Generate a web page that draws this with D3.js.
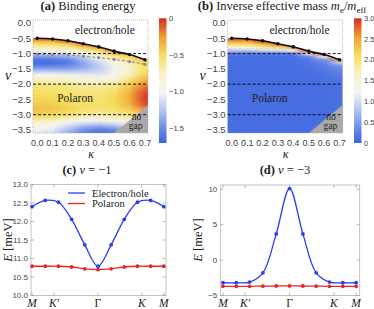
<!DOCTYPE html>
<html>
<head>
<meta charset="utf-8">
<script src="https://cdn.jsdelivr.net/npm/d3@7"></script>
<style>
  body { margin: 0; background: #fff; }
  svg { display: block; }
  text { font-family: "Liberation Serif", "Times New Roman", "DejaVu Serif", serif; fill: #222; }
  .num { font-family: "Liberation Sans", Arial, "DejaVu Sans", sans-serif; fill: #444; }
</style>
</head>
<body>
<svg id="fig" width="374" height="309"></svg>
<script>
// ---- heat map grid: columns = kappa, rows = nu ----
const kappa = [0, 0.1, 0.2, 0.3, 0.4, 0.5, 0.6, 0.7];
const nuRows = [-0.4, -0.5, -0.6, -0.7, -0.8, -0.9, -1.0, -1.1, -1.2, -1.3, -1.4, -1.5, -1.6, -1.7,
  -1.8, -1.9, -2.0, -2.1, -2.2, -2.3, -2.4, -2.5, -2.6, -2.7, -2.8, -2.9, -3.0, -3.1, -3.2, -3.3,
  -3.4, -3.5, -3.6];

// phase boundary (black) and gray dashed curve
const edgeNu = [-0.5, -0.52, -0.58, -0.68, -0.78, -0.92, -1.03, -1.2];
const grayNu = [-1.03, -1.04, -1.05, -1.09, -1.13, -1.19, -1.26, -1.35];
const nuLevels = [-1, -2, -3];
const noGap = [[0.5, -3.6], [0.72, -3.6], [0.72, -2.68]];

// (a) binding energy
const bindE = [
  [-0.05, -0.05, -0.05, -0.05, -0.05, -0.15, -0.25, -0.2],
  [-0.05, -0.05, -0.05, -0.05, -0.05, -0.15, -0.25, -0.2],
  [-0.35, -0.32, -0.15, -0.05, -0.05, -0.15, -0.25, -0.2],
  [-0.55, -0.53, -0.45, -0.2, -0.05, -0.15, -0.25, -0.2],
  [-0.72, -0.7, -0.65, -0.48, -0.25, -0.15, -0.25, -0.2],
  [-0.92, -0.9, -0.85, -0.72, -0.5, -0.15, -0.25, -0.2],
  [-1.15, -1.12, -1.05, -0.92, -0.72, -0.45, -0.25, -0.2],
  [-1.45, -1.42, -1.35, -1.15, -0.9, -0.62, -0.5, -0.2],
  [-1.62, -1.6, -1.52, -1.3, -1.05, -0.78, -0.62, -0.35],
  [-1.65, -1.63, -1.58, -1.38, -1.15, -0.9, -0.7, -0.5],
  [-1.55, -1.54, -1.5, -1.38, -1.2, -0.98, -0.75, -0.52],
  [-1.38, -1.38, -1.38, -1.32, -1.2, -1.02, -0.78, -0.52],
  [-1.18, -1.18, -1.2, -1.2, -1.15, -1.02, -0.78, -0.5],
  [-0.98, -0.99, -1.02, -1.05, -1.05, -0.97, -0.72, -0.45],
  [-0.82, -0.83, -0.86, -0.9, -0.92, -0.88, -0.62, -0.38],
  [-0.7, -0.71, -0.74, -0.78, -0.8, -0.76, -0.52, -0.3],
  [-0.62, -0.63, -0.65, -0.68, -0.7, -0.65, -0.45, -0.22],
  [-0.57, -0.58, -0.6, -0.63, -0.64, -0.58, -0.4, -0.15],
  [-0.54, -0.55, -0.57, -0.6, -0.61, -0.55, -0.35, -0.1],
  [-0.51, -0.52, -0.55, -0.58, -0.59, -0.52, -0.32, -0.06],
  [-0.49, -0.5, -0.53, -0.56, -0.57, -0.5, -0.3, -0.04],
  [-0.47, -0.48, -0.52, -0.55, -0.56, -0.49, -0.3, -0.04],
  [-0.44, -0.45, -0.5, -0.54, -0.55, -0.49, -0.32, -0.06],
  [-0.41, -0.43, -0.48, -0.53, -0.55, -0.5, -0.36, -0.1],
  [-0.39, -0.41, -0.47, -0.53, -0.56, -0.53, -0.42, -0.2],
  [-0.41, -0.43, -0.5, -0.56, -0.6, -0.58, -0.5, -0.3],
  [-0.47, -0.49, -0.56, -0.63, -0.68, -0.65, -0.58, -0.4],
  [-0.58, -0.6, -0.7, -0.78, -0.82, -0.78, -0.68, -0.5],
  [-0.72, -0.75, -0.88, -0.98, -1.02, -0.95, -0.8, -0.6],
  [-0.86, -0.9, -1.05, -1.18, -1.22, -1.15, -0.95, -0.7],
  [-0.96, -1.0, -1.18, -1.35, -1.42, -1.35, -1.1, -0.8],
  [-1.02, -1.07, -1.28, -1.48, -1.58, -1.5, -1.2, -0.9],
  [-1.06, -1.12, -1.35, -1.55, -1.65, -1.6, -1.3, -1.0]
];

// (b) inverse effective mass
const invMass = [
  [3, 3, 3, 3, 3, 3, 3, 3],
  [2.95, 2.95, 3, 3, 3, 3, 3, 3],
  [2.5, 2.5, 2.9, 3, 3, 3, 3, 3],
  [2.05, 2.05, 2.3, 2.7, 3, 3, 3, 3],
  [1.5, 1.5, 1.8, 2.0, 2.5, 3, 3, 3],
  [0.8, 0.8, 0.95, 1.0, 1.2, 3, 3, 3],
  [0.2, 0.2, 0.2, 0.2, 0.25, 1.6, 3, 3],
  [0.1, 0.1, 0.1, 0.1, 0.12, 0.35, 1.4, 3],
  [0.08, 0.08, 0.08, 0.08, 0.1, 0.2, 0.45, 2.6],
  [0.08, 0.08, 0.08, 0.08, 0.1, 0.16, 0.3, 0.9],
  [0.08, 0.08, 0.08, 0.08, 0.09, 0.13, 0.24, 0.45],
  [0.08, 0.08, 0.08, 0.08, 0.09, 0.11, 0.2, 0.35],
  [0.08, 0.08, 0.08, 0.08, 0.08, 0.1, 0.16, 0.28],
  [0.08, 0.08, 0.08, 0.08, 0.08, 0.09, 0.13, 0.22],
  [0.08, 0.08, 0.08, 0.08, 0.08, 0.08, 0.11, 0.18],
  [0.08, 0.08, 0.08, 0.08, 0.08, 0.08, 0.1, 0.15],
  [0.08, 0.08, 0.08, 0.08, 0.08, 0.08, 0.09, 0.13],
  [0.08, 0.08, 0.08, 0.08, 0.08, 0.08, 0.09, 0.12],
  [0.08, 0.08, 0.08, 0.08, 0.08, 0.08, 0.09, 0.12],
  [0.08, 0.08, 0.08, 0.08, 0.08, 0.08, 0.09, 0.12],
  [0.08, 0.08, 0.08, 0.08, 0.08, 0.08, 0.09, 0.12],
  [0.08, 0.08, 0.08, 0.08, 0.08, 0.08, 0.09, 0.12],
  [0.08, 0.08, 0.08, 0.08, 0.08, 0.08, 0.09, 0.12],
  [0.08, 0.08, 0.08, 0.08, 0.08, 0.08, 0.09, 0.12],
  [0.08, 0.08, 0.08, 0.08, 0.08, 0.08, 0.09, 0.12],
  [0.08, 0.08, 0.08, 0.08, 0.08, 0.08, 0.09, 0.12],
  [0.08, 0.08, 0.08, 0.08, 0.08, 0.08, 0.09, 0.12],
  [0.08, 0.08, 0.08, 0.08, 0.08, 0.08, 0.09, 0.11],
  [0.08, 0.08, 0.08, 0.08, 0.08, 0.08, 0.09, 0.11],
  [0.08, 0.08, 0.08, 0.08, 0.08, 0.08, 0.09, 0.1],
  [0.08, 0.08, 0.08, 0.08, 0.08, 0.08, 0.08, 0.1],
  [0.08, 0.08, 0.08, 0.08, 0.08, 0.08, 0.08, 0.1],
  [0.08, 0.08, 0.08, 0.08, 0.08, 0.08, 0.08, 0.1]
];

const nuTicks = [0, -0.5, -1, -1.5, -2, -2.5, -3, -3.5];
const bindTicks = [0, -0.5, -1, -1.5];
const massTicks = [0, 0.5, 1, 1.5, 2, 2.5, 3];

// ---- band dispersion along M-K'-Gamma-K-M ----
const pathPos = [0, 0.3, 0.6, 0.9, 1.2, 1.5, 1.8, 2.1, 2.4, 2.7, 3.0];
const pathTicks = [0, 0.5, 1.5, 2.5, 3];
const pathLabels = ['M', 'K′', 'Γ', 'K', 'M'];
const elec1 = [12.4, 12.57, 12.52, 12.06, 11.37, 10.79, 11.37, 12.06, 12.52, 12.57, 12.4];
const pol1 = [10.79, 10.79, 10.79, 10.77, 10.72, 10.7, 10.72, 10.77, 10.79, 10.79, 10.79];
const elec3 = [-3.2, -3.2, -3.1, -1.8, 3.7, 10.1, 3.7, -1.8, -3.1, -3.2, -3.2];
const pol3 = [-3.7, -3.7, -3.7, -3.68, -3.66, -3.65, -3.66, -3.68, -3.7, -3.7, -3.7];
const eTicks1 = [10, 10.5, 11, 11.5, 12, 12.5, 13];
const eTicks3 = [-5, 0, 5, 10];

const blue = '#2b3ef0', red = '#e8262a';

// colour map, t in [0,1]
const cmap = d3.scaleLinear()
  .domain([0, 0.12, 0.26, 0.41, 0.56, 0.7, 0.85, 1])
  .range(['#3c64e0', '#6a8ce8', '#b3c4f1', '#f6f5f2', '#f9f1c8', '#f5e05e', '#f0a035', '#d62a24'])
  .clamp(true);

const svg = d3.select('#fig');
const minus = s => String(s).replace('-', '−');

function drawMap(p) {
  const x = d3.scaleLinear([-0.027, 0.72], [p.left, p.left + 115]);
  const y = d3.scaleLinear([0.1, -3.6], [20, 133]);
  const g = svg.append('g');

  // grid -> tiny canvas, upscaled smoothly by the browser
  const nx = kappa.length, ny = nuRows.length;
  const cv = document.createElement('canvas');
  cv.width = nx + 2; cv.height = ny + 2;
  const ctx = cv.getContext('2d');
  for (let j = -1; j <= ny; j++) {
    for (let i = -1; i <= nx; i++) {
      const jj = Math.max(0, Math.min(ny - 1, j)), ii = Math.max(0, Math.min(nx - 1, i));
      ctx.fillStyle = cmap(p.toT(p.grid[jj][ii]));
      ctx.fillRect(i + 1, j + 1, 1, 1);
    }
  }
  const dk = kappa[1] - kappa[0], dn = nuRows[0] - nuRows[1];
  const pts = [[-0.027, edgeNu[0]], ...kappa.map((k, i) => [k, edgeNu[i]]), [0.72, edgeNu[edgeNu.length - 1]]];
  g.append('clipPath').attr('id', 'clip' + p.id).append('path')
    .attr('d', d3.area().x(d => x(d[0])).y0(y(-3.6)).y1(d => y(d[1])).curve(d3.curveMonotoneX)(pts));
  g.append('image')
    .attr('href', cv.toDataURL())
    .attr('x', x(kappa[0] - 1.5 * dk))
    .attr('width', x(kappa[nx - 1] + 1.5 * dk) - x(kappa[0] - 1.5 * dk))
    .attr('y', y(nuRows[0] + 1.5 * dn))
    .attr('height', y(nuRows[ny - 1] - 1.5 * dn) - y(nuRows[0] + 1.5 * dn))
    .attr('preserveAspectRatio', 'none')
    .attr('clip-path', `url(#clip${p.id})`);

  // no-gap wedge
  g.append('path')
    .attr('d', d3.line().x(d => x(d[0])).y(d => y(d[1]))(noGap) + 'Z')
    .attr('fill', '#a9a9a9');

  // dashed nu levels
  g.selectAll('.lvl').data(nuLevels).join('line')
    .attr('x1', x(-0.027)).attr('x2', x(0.72))
    .attr('y1', d => y(d)).attr('y2', d => y(d))
    .attr('stroke', '#111').attr('stroke-width', 1).attr('stroke-dasharray', '3,2');

  if (p.gray) {
    g.append('path')
      .attr('d', d3.line().x((d, i) => x(kappa[i])).y(d => y(d)).curve(d3.curveMonotoneX)(grayNu))
      .attr('fill', 'none').attr('stroke', '#8f8f8f').attr('stroke-width', 1.1).attr('stroke-dasharray', '3,2');
    g.selectAll('.gdot').data(grayNu).join('circle')
      .attr('cx', (d, i) => x(kappa[i])).attr('cy', d => y(d)).attr('r', 1.6).attr('fill', '#8f8f8f');
  }

  g.append('path')
    .attr('d', d3.line().x((d, i) => x(kappa[i])).y(d => y(d)).curve(d3.curveMonotoneX)(edgeNu))
    .attr('fill', 'none').attr('stroke', '#111').attr('stroke-width', 1.6);
  g.selectAll('.edot').data(edgeNu).join('circle')
    .attr('cx', (d, i) => x(kappa[i])).attr('cy', d => y(d)).attr('r', 1.8).attr('fill', '#111');

  // frame
  g.append('rect')
    .attr('x', x(-0.027)).attr('y', 20).attr('width', 115).attr('height', 113)
    .attr('fill', 'none').attr('stroke', '#aaa').attr('stroke-width', 0.8).attr('stroke-dasharray', '1,1');

  // tick labels
  g.selectAll('.yl').data(nuTicks).join('text')
    .attr('class', 'num').attr('font-size', 9.5)
    .attr('x', x(-0.027) - 2).attr('y', d => y(d)).attr('dy', '0.35em')
    .attr('text-anchor', 'end').text(d => minus(d.toFixed(1)));
  g.selectAll('.xl').data(kappa).join('text')
    .attr('class', 'num').attr('font-size', 9)
    .attr('x', d => x(d)).attr('y', 146)
    .attr('text-anchor', 'middle').text(d => d.toFixed(1));

  g.append('text').attr('x', p.left - 28).attr('y', 80).attr('font-size', 14)
    .attr('font-style', 'italic').text('ν');
  g.append('text').attr('x', x(0.35)).attr('y', 158).attr('font-size', 12)
    .attr('text-anchor', 'middle').attr('font-style', 'italic').text('κ');

  g.append('text').attr('x', x(0.44)).attr('y', 34).attr('font-size', 11.5)
    .attr('text-anchor', 'middle').text('electron/hole');
  g.append('text').attr('x', x(0.13)).attr('y', 102).attr('font-size', 11.5).text('Polaron');
  g.append('text').attr('x', x(0.645)).attr('y', 120).attr('font-size', 9.5)
    .attr('text-anchor', 'middle').text('no');
  g.append('text').attr('x', x(0.64)).attr('y', 129).attr('font-size', 9.5)
    .attr('text-anchor', 'middle').text('gap');

  // colour bar
  const cb = d3.scaleLinear(p.cbDomain, [143, 18.3]);
  const gid = 'grad' + p.id;
  const grad = svg.append('defs').append('linearGradient').attr('id', gid)
    .attr('x1', 0).attr('y1', 1).attr('x2', 0).attr('y2', 0);
  grad.selectAll('stop').data(cmap.domain()).join('stop')
    .attr('offset', d => d).attr('stop-color', d => cmap(d));
  g.append('rect').attr('x', p.cbX).attr('y', 18.3).attr('width', 7.5).attr('height', 143 - 18.3)
    .attr('fill', `url(#${gid})`);
  g.selectAll('.cl').data(p.cbTicks).join('text')
    .attr('class', 'num').attr('font-size', 7.5).attr('fill', '#555')
    .attr('x', p.cbX + 10).attr('y', d => cb(d)).attr('dy', '0.35em')
    .text(d => d === 0 ? '0' : minus(d.toFixed(1)));
}

drawMap({ id: 'a', left: 33, grid: bindE, toT: v => (v + 1.7) / 1.7, gray: true,
  cbDomain: [-1.7, 0], cbX: 159, cbTicks: bindTicks });
drawMap({ id: 'b', left: 227.6, grid: invMass, toT: v => v / 3, gray: false,
  cbDomain: [0, 3], cbX: 354, cbTicks: massTicks });

// titles of top panels
const ta = svg.append('text').attr('x', 88).attr('y', 10).attr('font-size', 12.5).attr('text-anchor', 'middle');
ta.append('tspan').attr('font-weight', 'bold').text('(a)');
ta.append('tspan').text(' Binding energy');
const tb = svg.append('text').attr('x', 282).attr('y', 10).attr('font-size', 12.5).attr('text-anchor', 'middle');
tb.append('tspan').attr('font-weight', 'bold').text('(b)');
tb.append('tspan').text(' Inverse effective mass ');
tb.append('tspan').attr('font-style', 'italic').text('m');
tb.append('tspan').attr('font-size', 9).attr('dy', 3).text('e');
tb.append('tspan').attr('dy', -3).text('/');
tb.append('tspan').attr('font-style', 'italic').text('m');
tb.append('tspan').attr('font-size', 9).attr('dy', 3).text('eff');

function drawBands(p) {
  const x = d3.scaleLinear(p.xDom, p.xRange);
  const y = d3.scaleLinear(p.yDom, [295.5, p.top]);
  const g = svg.append('g');
  const [x0, x1] = p.xRange;

  g.append('rect').attr('x', x0).attr('y', p.top).attr('width', x1 - x0).attr('height', 295.5 - p.top)
    .attr('fill', 'none').attr('stroke', '#b5b5b5').attr('stroke-width', 0.8);
  // frame ticks
  g.selectAll('.ty').data(p.yTicks).join('path')
    .attr('d', d => `M${x0},${y(d)}h3M${x1},${y(d)}h-3`).attr('stroke', '#999').attr('stroke-width', 0.7);
  g.selectAll('.tx').data(pathTicks).join('path')
    .attr('d', d => `M${x(d)},295.5v-3M${x(d)},${p.top}v3`).attr('stroke', '#999').attr('stroke-width', 0.7);

  g.selectAll('.yl').data(p.yTicks).join('text')
    .attr('class', 'num').attr('font-size', 8).attr('fill', '#555')
    .attr('x', x0 - 3).attr('y', d => y(d)).attr('dy', '0.35em').attr('text-anchor', 'end')
    .text(d => minus(p.fmt(d)));
  g.selectAll('.xl').data(pathTicks).join('text')
    .attr('x', d => x(d)).attr('y', 307).attr('font-size', 11.5).attr('text-anchor', 'middle')
    .attr('font-style', (d, i) => pathLabels[i] === 'Γ' ? 'normal' : 'italic')
    .text((d, i) => pathLabels[i]);

  const yl = g.append('text').attr('transform', `translate(${p.yLabX},240) rotate(-90)`)
    .attr('font-size', 12.5).attr('text-anchor', 'middle');
  yl.append('tspan').attr('font-style', 'italic').text('E');
  yl.append('tspan').text(' [meV]');

  const line = d3.line().x((d, i) => x(pathPos[i])).y(d => y(d)).curve(d3.curveCatmullRom.alpha(0.5));
  [[p.pol, red], [p.elec, blue]].forEach(([s, c]) => {
    g.append('path').attr('d', line(s)).attr('fill', 'none').attr('stroke', c).attr('stroke-width', 1.3);
    g.selectAll(null).data(s).join('circle')
      .attr('cx', (d, i) => x(pathPos[i])).attr('cy', d => y(d)).attr('r', 1.9).attr('fill', c);
  });

  const t = g.append('text').attr('x', p.titleX).attr('y', 174).attr('font-size', 12.5).attr('text-anchor', 'middle');
  t.append('tspan').attr('font-weight', 'bold').text(p.tag);
  t.append('tspan').text(' ');
  t.append('tspan').attr('font-style', 'italic').text('ν');
  t.append('tspan').text(' = ' + minus(p.nu));

  if (p.legend) {
    [['Electron/hole', blue, 193], ['Polaron', red, 203.5]].forEach(([lab, c, ly]) => {
      g.append('line').attr('x1', 68).attr('x2', 85).attr('y1', ly).attr('y2', ly)
        .attr('stroke', c).attr('stroke-width', 1.3);
      g.append('text').attr('x', 92).attr('y', ly + 3.5).attr('font-size', 10.5).attr('fill', '#333').text(lab);
    });
  }
}

drawBands({ tag: '(c)', nu: '-1', titleX: 87, xDom: [-0.025, 3.05], xRange: [31, 166],
  yDom: [10, 13], top: 184.5, yTicks: eTicks1, fmt: d => d.toFixed(1), yLabX: 11.5,
  elec: elec1, pol: pol1, legend: true });
drawBands({ tag: '(d)', nu: '-3', titleX: 285, xDom: [-0.06, 3.08], xRange: [220.3, 359.7],
  yDom: [-5, 10.6], top: 185, yTicks: eTicks3, fmt: d => String(d), yLabX: 202,
  elec: elec3, pol: pol3, legend: false });
</script>
</body>
</html>
